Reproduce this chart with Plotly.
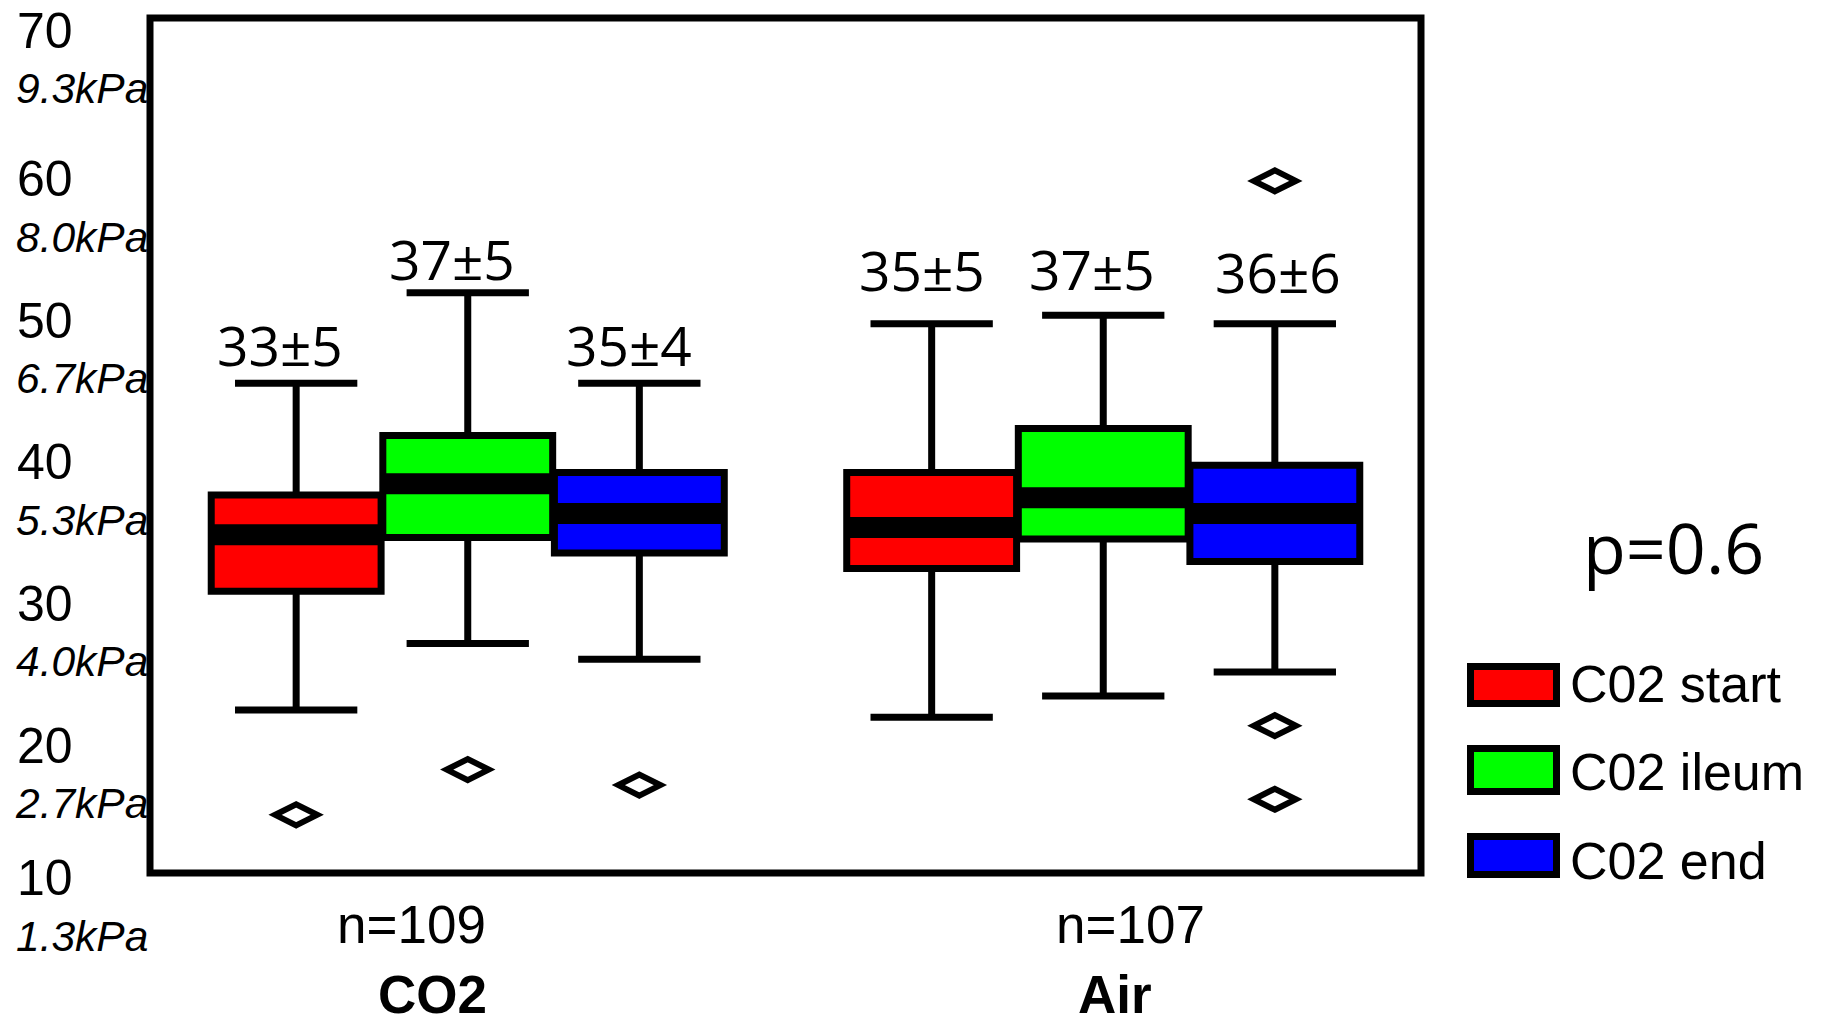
import plotly.graph_objects as go

# ---------------- data ----------------
groups = ["CO2", "Air"]
group_n = ["n=109", "n=107"]
series = ["C02 start", "C02 ileum", "C02 end"]

lowerfence = {"C02 start": [22.5, 22.0], "C02 ileum": [27.2, 23.5], "C02 end": [26.1, 25.2]}
q1_vals = {"C02 start": [30.9, 32.5], "C02 ileum": [34.7, 34.6], "C02 end": [33.6, 33.0]}
median_vals = {"C02 start": [34.9, 35.4], "C02 ileum": [38.5, 37.5], "C02 end": [36.4, 36.4]}
q3_vals = {"C02 start": [37.7, 39.3], "C02 ileum": [41.9, 42.4], "C02 end": [39.3, 39.8]}
upperfence = {"C02 start": [45.6, 49.8], "C02 ileum": [52.0, 50.4], "C02 end": [45.6, 49.8]}
outliers = {"C02 start": [[15.1], []], "C02 ileum": [[18.3], []], "C02 end": [[17.2], [59.9, 21.4, 16.2]]}
mean_sd = {"C02 start": ["33±5", "35±5"], "C02 ileum": ["37±5", "37±5"], "C02 end": ["35±4", "36±6"]}

y_tick_vals = [70, 60, 50, 40, 30, 20, 10]
y_tick_text = ["70", "60", "50", "40", "30", "20", "10"]
y_kpa_text = ["9.3kPa", "8.0kPa", "6.7kPa", "5.3kPa", "4.0kPa", "2.7kPa", "1.3kPa"]
p_text = "p=0.6"

# ---------------- style / layout ----------------
colors = {"C02 start": "#ff0000", "C02 ileum": "#00ff00", "C02 end": "#0000ff"}
W, H = 1821, 1023
L, T = 150, 18
R = W - 1421
B = H - 873
PW, PH = W - L - R, H - T - B
Y0, Y1 = 10.99, 71.41
BOXGAP = 0.19

def px_x(px):
    return (px - L) / PW

def px_y(py):
    return (H - B - py) / PH

def val_to_paper(v):
    return (v - Y0) / (Y1 - Y0)

fig = go.Figure()
for j, s in enumerate(series):
    fig.add_trace(go.Box(
        name=s, x=groups, y=outliers[s],
        q1=q1_vals[s], median=median_vals[s], q3=q3_vals[s],
        lowerfence=lowerfence[s], upperfence=upperfence[s],
        boxpoints="outliers", jitter=0, pointpos=0,
        fillcolor=colors[s], line=dict(color="black", width=7),
        whiskerwidth=0.72,
        marker=dict(symbol="diamond-wide-open", size=30, color="black",
                    line=dict(width=6, color="black")),
        offsetgroup=str(j), showlegend=False, hoverinfo="skip"))
    # thick median band
    fig.add_trace(go.Box(
        name=s + " median", x=groups,
        q1=median_vals[s], median=median_vals[s], q3=median_vals[s],
        lowerfence=median_vals[s], upperfence=median_vals[s],
        boxpoints=False, fillcolor="rgba(0,0,0,0)",
        line=dict(color="black", width=21), whiskerwidth=0,
        offsetgroup=str(j), showlegend=False, hoverinfo="skip"))

annotations = []
# y tick labels (two lines: value and kPa)
tick_shift = [7, 0, 0, 0, 0, 0, 9]
for v, t, k, sh in zip(y_tick_vals, y_tick_text, y_kpa_text, tick_shift):
    annotations.append(dict(x=px_x(75), y=val_to_paper(v), xref="paper", yref="paper",
                            text=t, showarrow=False, xanchor="right", yanchor="middle",
                            yshift=sh, font=dict(family="Liberation Sans", size=50, color="black")))
    annotations.append(dict(x=px_x(150), y=val_to_paper(v), xref="paper", yref="paper",
                            text="<i>" + k + "</i>", showarrow=False, xanchor="right", yanchor="middle",
                            yshift=sh - 58, font=dict(family="Liberation Sans", size=42.5, color="black")))

# mean ± sd labels above the boxes
label_dy = {"C02 start": [39, 54], "C02 ileum": [34, 47], "C02 end": [39, 52]}
label_dx = {"C02 start": [-16, -10], "C02 ileum": [-16, -11], "C02 end": [-10, 3]}
slot = (1 - BOXGAP) / len(series)
for j, s in enumerate(series):
    for gi, g in enumerate(groups):
        annotations.append(dict(x=gi + (j - 1) * slot, y=upperfence[s][gi], xref="x", yref="y",
                                text=mean_sd[s][gi], showarrow=False, xanchor="center", yanchor="middle",
                                xshift=label_dx[s][gi], yshift=label_dy[s][gi],
                                font=dict(family="Open Sans", size=55, color="black")))

# group labels
n_dx = [-56.5, 27]
g_dx = [-35.5, 12]
for gi, g in enumerate(groups):
    annotations.append(dict(x=g, y=px_y(924), xref="x", yref="paper", text=group_n[gi],
                            showarrow=False, xanchor="center", yanchor="middle", xshift=n_dx[gi],
                            font=dict(family="Liberation Sans", size=53, color="black")))
    annotations.append(dict(x=g, y=px_y(995), xref="x", yref="paper", text="<b>" + g + "</b>",
                            showarrow=False, xanchor="center", yanchor="middle", xshift=g_dx[gi],
                            font=dict(family="Liberation Sans", size=53, color="black")))

# p value
annotations.append(dict(x=px_x(1673.5), y=px_y(547.5), xref="paper", yref="paper", text=p_text,
                        showarrow=False, xanchor="center", yanchor="middle",
                        font=dict(family="Open Sans", size=70, color="black")))

# custom legend
shapes = [dict(type="rect", xref="paper", yref="paper", x0=0, x1=1, y0=0, y1=1,
               line=dict(color="black", width=7), fillcolor="rgba(0,0,0,0)", layer="above")]
leg_rect_y = [(666.5, 703.5), (748.5, 791.5), (836.5, 874.5)]
leg_text_y = [684, 771.5, 861]
for j, s in enumerate(series):
    ya, yb = leg_rect_y[j]
    shapes.append(dict(type="rect", xref="paper", yref="paper",
                       x0=px_x(1470.5), x1=px_x(1556.5), y0=px_y(yb), y1=px_y(ya),
                       line=dict(color="black", width=7), fillcolor=colors[s], layer="above"))
    annotations.append(dict(x=px_x(1568), y=px_y(leg_text_y[j]), xref="paper", yref="paper",
                            text=s, showarrow=False, xanchor="left", yanchor="middle",
                            font=dict(family="Liberation Sans", size=52, color="black")))

fig.update_layout(
    width=W, height=H,
    margin=dict(l=L, r=R, t=T, b=B, pad=0),
    paper_bgcolor="white", plot_bgcolor="white",
    boxmode="group", boxgap=BOXGAP, boxgroupgap=0.01,
    showlegend=False,
    xaxis=dict(type="category", range=[-0.5, 1.5], showticklabels=False, showgrid=False,
               zeroline=False, showline=False, ticks=""),
    yaxis=dict(range=[Y0, Y1], showticklabels=False, showgrid=False, zeroline=False,
               showline=False, ticks="", tickvals=y_tick_vals),
    annotations=annotations, shapes=shapes,
)

# remove the default page margin so the 1821x1023 figure fills the window exactly
fig.write_html("out.html",
               config={"displayModeBar": False},
               post_script="document.body.style.margin='0px';document.body.style.overflow='hidden';")
